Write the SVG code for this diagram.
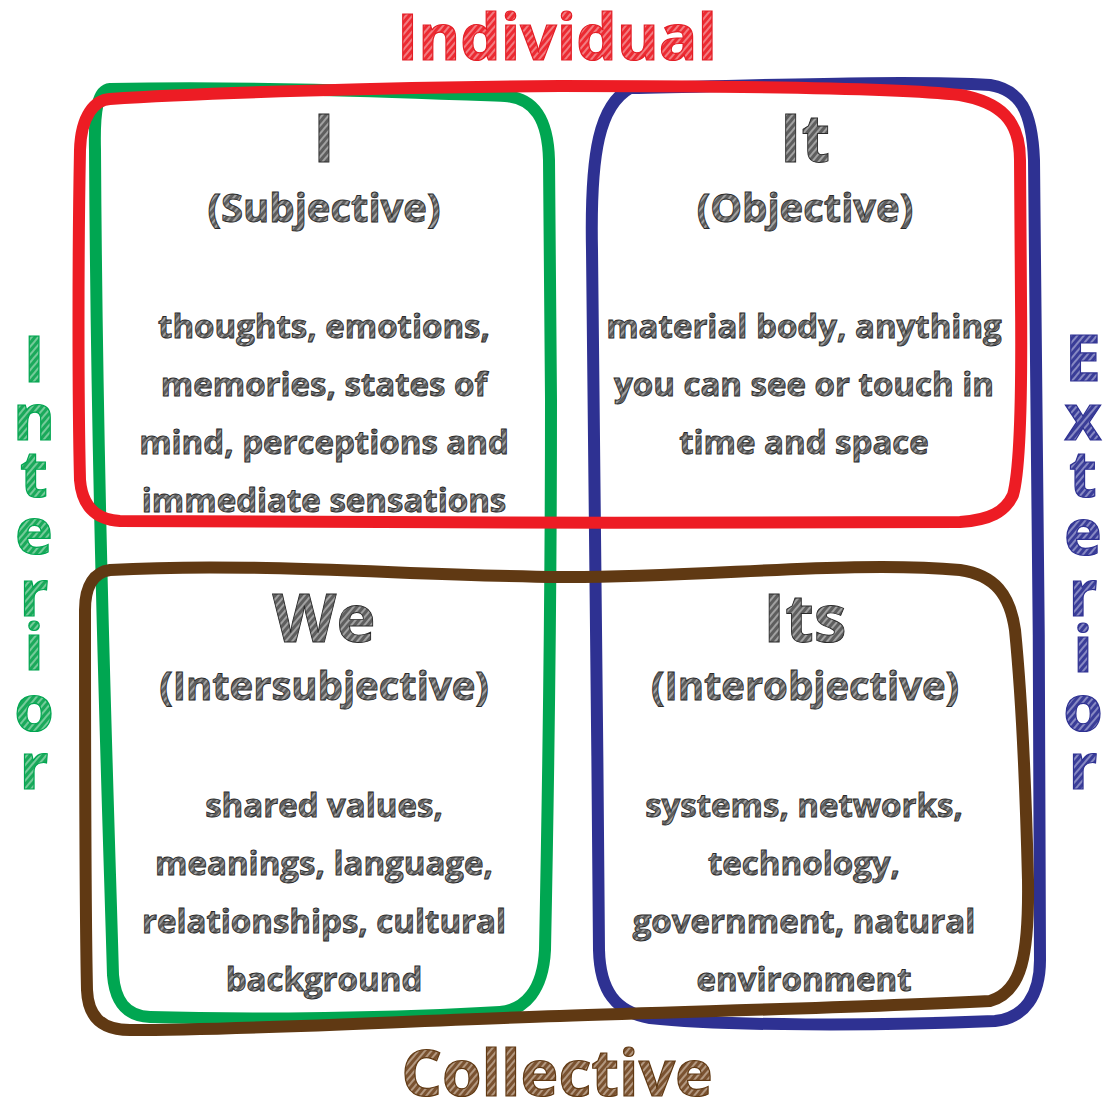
<svg xmlns="http://www.w3.org/2000/svg" width="1114" height="1103" viewBox="0 0 1114 1103">
  <defs>
    <!-- sketchy hatch fills for the lettering -->
    <pattern id="hatchInk" width="5" height="5" patternUnits="userSpaceOnUse" patternTransform="rotate(40)">
      <rect width="5" height="5" fill="#5e5e5e"/>
      <line x1="1" y1="0" x2="1" y2="5" stroke="#d8d8d8" stroke-width="1.1"/>
    </pattern>
    <pattern id="hatchRed" width="5" height="5" patternUnits="userSpaceOnUse" patternTransform="rotate(40)">
      <rect width="5" height="5" fill="#ec2a32"/>
      <line x1="1" y1="0" x2="1" y2="5" stroke="#f8c0c2" stroke-width="1.1"/>
    </pattern>
    <pattern id="hatchGreen" width="5" height="5" patternUnits="userSpaceOnUse" patternTransform="rotate(40)">
      <rect width="5" height="5" fill="#1aa95a"/>
      <line x1="1" y1="0" x2="1" y2="5" stroke="#bfe8cf" stroke-width="1.1"/>
    </pattern>
    <pattern id="hatchBlue" width="5" height="5" patternUnits="userSpaceOnUse" patternTransform="rotate(40)">
      <rect width="5" height="5" fill="#3a3d98"/>
      <line x1="1" y1="0" x2="1" y2="5" stroke="#c6c7e6" stroke-width="1.1"/>
    </pattern>
    <pattern id="hatchBrown" width="5" height="5" patternUnits="userSpaceOnUse" patternTransform="rotate(40)">
      <rect width="5" height="5" fill="#7a5230"/>
      <line x1="1" y1="0" x2="1" y2="5" stroke="#e2d2c2" stroke-width="1.1"/>
    </pattern>
  </defs>
  <style>
    .loop { fill: none; stroke-width: 12; stroke-linejoin: round; stroke-linecap: round; }
    .txt { font-family: "Open Sans", "Liberation Sans", sans-serif; font-weight: 700; text-anchor: middle; }
    .ink { fill: url(#hatchInk); stroke: #2a2a2a; stroke-width: 0.9; }
    .head { font-size: 66px; }
    .sub { font-size: 40px; }
    .body { font-size: 33px; }
    .axis { font-size: 64px; stroke-width: 1.2; }
    .red { fill: url(#hatchRed); stroke: #e31e26; }
    .green { fill: url(#hatchGreen); stroke: #00a651; }
    .blue { fill: url(#hatchBlue); stroke: #2e3192; }
    .brown { fill: url(#hatchBrown); stroke: #603913; }
  </style>

  <rect width="1114" height="1103" fill="#ffffff"/>

  <!-- hand-drawn grouping loops -->
  <g id="loops">
    <path class="loop" stroke="#00a651" d="M 110,89 C 250,86 400,92 505,96 C 535,98 548,120 549,160 L 551,400 C 551,600 548,800 545,950 C 543,990 525,1010 500,1012 C 400,1018 250,1020 150,1017 C 125,1016 115,1000 113,975 C 108,800 97,500 95,150 C 94,110 98,90 110,89 Z"/>
    <path class="loop" stroke="#2e3192" d="M 630,88 C 750,86 900,80 990,85 C 1020,90 1032,110 1034,160 C 1037,400 1040,700 1040,960 C 1040,995 1025,1018 995,1021 C 880,1026 720,1026 650,1018 C 615,1012 600,990 599,950 C 597,700 594,400 592,250 C 590,150 600,105 630,88 Z"/>
    <path class="loop" stroke="#603913" d="M 110,570 C 250,562 400,575 560,577 C 700,578 850,560 960,570 C 995,575 1010,595 1015,630 C 1022,700 1026,800 1028,880 C 1029,955 1022,992 990,1001 C 850,1008 700,1011 560,1016 C 400,1021 250,1030 130,1030 C 100,1030 88,1015 87,990 C 85,900 85,700 85,610 C 85,585 95,572 110,570 Z"/>
    <path class="loop" stroke="#ed1c24" d="M 110,99 C 200,93 400,87 560,86 C 750,86 900,88 960,95 C 1000,102 1020,120 1020,160 L 1021,300 C 1022,400 1020,470 1013,495 C 1005,512 990,520 960,522 C 700,524 300,522 120,521 C 95,520 82,505 80,480 C 78,400 78,250 80,150 C 81,115 95,100 110,99 Z"/>
  </g>

  <!-- axis labels -->
  <g id="label-individual">
    <text class="txt axis red" x="557" y="60">Individual</text>
  </g>
  <g id="label-collective">
    <text class="txt axis brown" x="557" y="1096">Collective</text>
  </g>
  <g id="label-interior">
    <text class="txt axis green" x="34" y="382">I</text>
    <text class="txt axis green" x="34" y="440">n</text>
    <text class="txt axis green" x="34" y="497">t</text>
    <text class="txt axis green" x="34" y="554">e</text>
    <text class="txt axis green" x="34" y="616">r</text>
    <text class="txt axis green" x="34" y="670">i</text>
    <text class="txt axis green" x="34" y="731">o</text>
    <text class="txt axis green" x="34" y="789">r</text>
  </g>
  <g id="label-exterior">
    <text class="txt axis blue" x="1083" y="381">E</text>
    <text class="txt axis blue" x="1083" y="440">x</text>
    <text class="txt axis blue" x="1083" y="497">t</text>
    <text class="txt axis blue" x="1083" y="555">e</text>
    <text class="txt axis blue" x="1083" y="616">r</text>
    <text class="txt axis blue" x="1083" y="672">i</text>
    <text class="txt axis blue" x="1083" y="731">o</text>
    <text class="txt axis blue" x="1083" y="789">r</text>
  </g>

  <!-- upper left quadrant -->
  <g id="quad-i">
    <text class="txt ink head" x="324" y="162">I</text>
    <text class="txt ink sub" x="324" y="222">(Subjective)</text>
    <text class="txt ink body" x="324" y="338">thoughts, emotions,</text>
    <text class="txt ink body" x="324" y="396">memories, states of</text>
    <text class="txt ink body" x="324" y="454">mind, perceptions and</text>
    <text class="txt ink body" x="324" y="512">immediate sensations</text>
  </g>

  <!-- upper right quadrant -->
  <g id="quad-it">
    <text class="txt ink head" x="805" y="162">It</text>
    <text class="txt ink sub" x="805" y="222">(Objective)</text>
    <text class="txt ink body" x="804" y="338">material body, anything</text>
    <text class="txt ink body" x="804" y="396">you can see or touch in</text>
    <text class="txt ink body" x="804" y="454">time and space</text>
  </g>

  <!-- lower left quadrant -->
  <g id="quad-we">
    <text class="txt ink head" x="324" y="642">We</text>
    <text class="txt ink sub" x="324" y="700">(Intersubjective)</text>
    <text class="txt ink body" x="324" y="817">shared values,</text>
    <text class="txt ink body" x="324" y="875">meanings, language,</text>
    <text class="txt ink body" x="324" y="933">relationships, cultural</text>
    <text class="txt ink body" x="324" y="991">background</text>
  </g>

  <!-- lower right quadrant -->
  <g id="quad-its">
    <text class="txt ink head" x="805" y="642">Its</text>
    <text class="txt ink sub" x="805" y="700">(Interobjective)</text>
    <text class="txt ink body" x="804" y="817">systems, networks,</text>
    <text class="txt ink body" x="804" y="875">technology,</text>
    <text class="txt ink body" x="804" y="933">government, natural</text>
    <text class="txt ink body" x="804" y="991">environment</text>
  </g>
</svg>
